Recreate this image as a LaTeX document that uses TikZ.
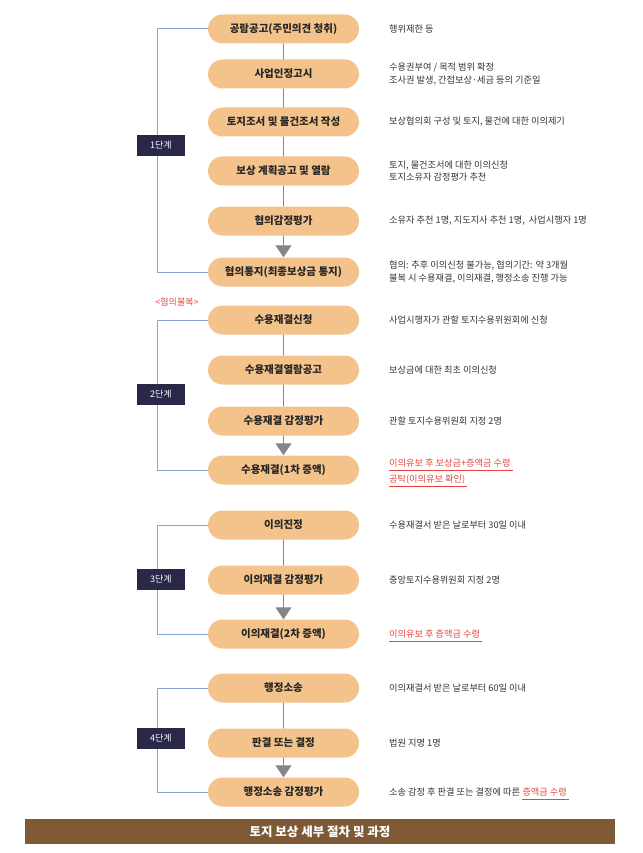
\documentclass[tikz,border=0pt]{standalone}
\usepackage{fontspec}
\setmainfont{Noto Sans CJK KR}
\usetikzlibrary{arrows.meta,shapes.misc}
\definecolor{pillfill}{HTML}{F3C38B}
\definecolor{stagefill}{HTML}{2A2848}
\definecolor{brace}{HTML}{86A8D8}
\definecolor{linkgray}{HTML}{85858A}
\definecolor{noteRed}{HTML}{E8453C}
\definecolor{barbrown}{HTML}{7E5936}

\begin{document}
\begin{tikzpicture}[x=1pt,y=-1pt,
    pill/.style={rounded rectangle,fill=pillfill,minimum width=151pt,minimum height=29pt,
      inner sep=0pt,font=\fontsize{10.5}{12}\selectfont\bfseries,text=black!85},
    stage/.style={fill=stagefill,minimum width=48pt,minimum height=21pt,inner sep=0pt,
      text=white,font=\fontsize{9}{10}\selectfont},
    note/.style={anchor=west,align=left,inner sep=0pt,text=black!80,
      font=\fontsize{9.2}{12.5}\selectfont},
    rednote/.style={note,text=noteRed},
    uline/.style={noteRed,line width=0.8pt},
    link/.style={linkgray,line width=0.9pt},
    tolast/.style={link,-{Triangle[width=16pt,length=12pt]}},
    bracket/.style={brace,line width=1pt}]
  \useasboundingbox (0,0) rectangle (642,853);

  % 1단계
  \node[pill] (p1) at (283.5,29) {공람공고(주민의견 청취)};
  \node[pill] (p2) at (283.5,74) {사업인정고시};
  \node[pill] (p3) at (283.5,122) {토지조서 및 물건조서 작성};
  \node[pill] (p4) at (283.5,171) {보상 계획공고 및 열람};
  \node[pill] (p5) at (283.5,221) {협의감정평가};
  \node[pill] (p6) at (283.5,272) {협의통지(최종보상금 통지)};
  \draw[bracket] (p1.west) -- ++(-50,0) |- (p6.west);
  \draw[link] (p1) -- (p2);
  \draw[link] (p2) -- (p3);
  \draw[link] (p3) -- (p4);
  \draw[link] (p4) -- (p5);
  \draw[tolast] (p5) -- (p6);
  \node[stage] (s1) at (161,145.5) {1단계};

  \node[note] (n1) at (389,29) {행위제한 등};
  \node[note] (n2) at (389,74) {수용권부여 / 목적 범위 확정\\조사권 발생, 간접보상·세금 등의 기준일};
  \node[note] (n3) at (389,122) {보상협의회 구성 및 토지, 물건에 대한 이의제기};
  \node[note] (n4) at (389,171) {토지, 물건조서에 대한 이의신청\\토지소유자 감정평가 추천};
  \node[note] (n5) at (389,221) {소유자 추천 1명, 지도지사 추천 1명,\ \ 사업시행자 1명};
  \node[note] (n6) at (389,272) {협의: 추후 이의신청 불가능, 협의기간: 약 3개월\\불복 시 수용재결, 이의재결, 행정소송 진행 가능};

  % 2단계
  \node[rednote,anchor=center,font=\fontsize{9}{10}\selectfont] (fail) at (177,302) {<협의불복>};
  \node[pill] (p7) at (283.5,320) {수용재결신청};
  \node[pill] (p8) at (283.5,370) {수용재결열람공고};
  \node[pill] (p9) at (283.5,421) {수용재결 감정평가};
  \node[pill] (p10) at (283.5,470) {수용재결(1차 증액)};
  \draw[bracket] (p7.west) -- ++(-50,0) |- (p10.west);
  \draw[link] (p7) -- (p8);
  \draw[link] (p8) -- (p9);
  \draw[tolast] (p9) -- (p10);
  \node[stage] (s2) at (161,394.5) {2단계};

  \node[note] (n7) at (389,320) {사업시행자가 관할 토지수용위원회에 신청};
  \node[note] (n8) at (389,370) {보상금에 대한 최초 이의신청};
  \node[note] (n9) at (389,421) {관할 토지수용위원회 지정 2명};
  \node[rednote] (n10a) at (389,463) {이의유보 후 보상금+증액금 수령};
  \node[rednote] (n10b) at (389,480) {공탁(이의유보 확인)};
  \draw[uline] ([yshift=-3.5pt]n10a.base west) -- ([xshift=2pt,yshift=-3.5pt]n10a.base east);
  \draw[uline] ([yshift=-3.5pt]n10b.base west) -- ([xshift=2pt,yshift=-3.5pt]n10b.base east);

  % 3단계
  \node[pill] (p11) at (283.5,525) {이의진정};
  \node[pill] (p12) at (283.5,580) {이의재결 감정평가};
  \node[pill] (p13) at (283.5,634) {이의재결(2차 증액)};
  \draw[bracket] (p11.west) -- ++(-50,0) |- (p13.west);
  \draw[link] (p11) -- (p12);
  \draw[tolast] (p12) -- (p13);
  \node[stage] (s3) at (161,579.5) {3단계};

  \node[note] (n11) at (389,525) {수용재결서 받은 날로부터 30일 이내};
  \node[note] (n12) at (389,580) {중앙토지수용위원회 지정 2명};
  \node[rednote] (n13) at (389,634) {이의유보 후 증액금 수령};
  \draw[uline] ([yshift=-3.5pt]n13.base west) -- ([xshift=2pt,yshift=-3.5pt]n13.base east);

  % 4단계
  \node[pill] (p14) at (283.5,688) {행정소송};
  \node[pill] (p15) at (283.5,743) {판결 또는 결정};
  \node[pill] (p16) at (283.5,792) {행정소송 감정평가};
  \draw[bracket] (p14.west) -- ++(-50,0) |- (p16.west);
  \draw[link] (p14) -- (p15);
  \draw[tolast] (p15) -- (p16);
  \node[stage] (s4) at (161,738) {4단계};

  \node[note] (n14) at (389,688) {이의재결서 받은 날로부터 60일 이내};
  \node[note] (n15) at (389,743) {법원 지명 1명};
  \node[note] (n16) at (389,792) {소송 감정 후 판결 또는 결정에 따른 };
  \node[rednote,anchor=base west] (n16r) at (n16.base east) {증액금 수령};
  \draw[uline] ([yshift=-3.5pt]n16r.base west) -- ([xshift=2pt,yshift=-3.5pt]n16r.base east);

  % 제목
  \node[fill=barbrown,minimum width=590pt,minimum height=25pt,inner sep=0pt,text=white,
    font=\fontsize{12.5}{14}\selectfont\bfseries] (title) at (320,831.5) {토지 보상 세부 절차 및 과정};
\end{tikzpicture}
\end{document}
